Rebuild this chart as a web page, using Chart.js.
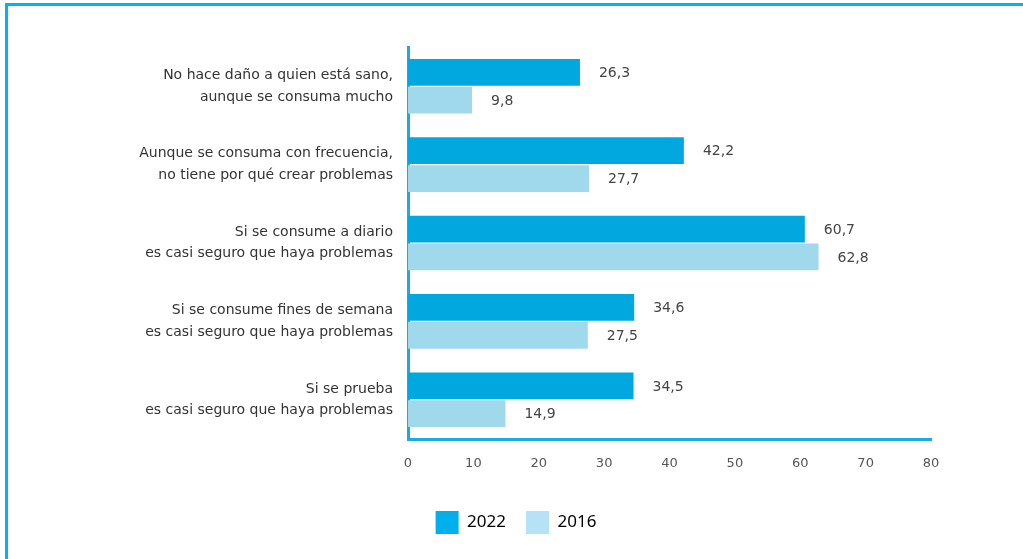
<!DOCTYPE html>
<html>
<head>
<meta charset="utf-8">
<script src="https://cdn.jsdelivr.net/npm/chart.js@4.4.1/dist/chart.umd.min.js"></script>
<style>
  html, body { margin: 0; padding: 0; background: #ffffff; overflow: hidden; }
  #wrap { position: relative; width: 1023px; height: 559px; }
  #frame { position: absolute; left: 5px; top: 3px; width: 2000px; height: 2000px; border: 3px solid #00B5EF; box-sizing: border-box; }
  canvas { position: absolute; left: 0; top: 0; }
</style>
</head>
<body>
<div id="wrap">
  <div id="frame"></div>
  <canvas id="c" width="1023" height="559"></canvas>
</div>
<script>
const categories = [
  ["No hace daño a quien está sano,", "aunque se consuma mucho"],
  ["Aunque se consuma con frecuencia,", "no tiene por qué crear problemas"],
  ["Si se consume a diario", "es casi seguro que haya problemas"],
  ["Si se consume fines de semana", "es casi seguro que haya problemas"],
  ["Si se prueba", "es casi seguro que haya problemas"]
];
const seriesNames = ["2022", "2016"];
const values2022 = [26.3, 42.2, 60.7, 34.6, 34.5];
const values2016 = [9.8, 27.7, 62.8, 27.5, 14.9];
const xTicks = [0, 10, 20, 30, 40, 50, 60, 70, 80];

const barColors = ["#00A8DF", "#9FD9EB"];
const legendColors = ["#00B0EC", "#B5E2F7"];

const valueLabels = {
  id: "valueLabels",
  afterDatasetsDraw(chart) {
    const ctx = chart.ctx;
    ctx.save();
    ctx.font = "14px 'DejaVu Sans'";
    ctx.fillStyle = "#444444";
    ctx.textAlign = "left";
    ctx.textBaseline = "middle";
    chart.data.datasets.forEach((ds, di) => {
      const meta = chart.getDatasetMeta(di);
      meta.data.forEach((el, i) => {
        const txt = ds.data[i].toFixed(1).replace(".", ",");
        ctx.fillText(txt, el.x + 19, el.y + 1);
      });
    });
    ctx.restore();
  }
};

new Chart(document.getElementById("c"), {
  type: "bar",
  data: {
    labels: categories,
    datasets: [
      { label: seriesNames[0], data: values2022, backgroundColor: barColors[0] },
      { label: seriesNames[1], data: values2016, backgroundColor: barColors[1] }
    ]
  },
  options: {
    indexAxis: "y",
    responsive: false,
    animation: false,
    events: [],
    categoryPercentage: 0.71,
    barPercentage: 0.96,
    layout: { padding: { top: 47, left: 101, right: 92, bottom: 15 } },
    scales: {
      x: {
        min: 0, max: 80,
        afterBuildTicks(scale) { scale.ticks = xTicks.map(v => ({ value: v })); },
        afterFit(scale) { scale.height = 52; },
        grid: { display: false, drawTicks: false },
        border: { display: true, color: "#1AABE2", width: 3 },
        ticks: {
          padding: 17,
          color: "#555555",
          font: { family: "'DejaVu Sans'", size: 13 }
        }
      },
      y: {
        afterFit(scale) { scale.width = 307; },
        grid: { display: false, drawTicks: false },
        border: { display: true, color: "#1AABE2", width: 3 },
        ticks: {
          padding: 15,
          color: "#333333",
          font: { family: "'DejaVu Sans'", size: 14, lineHeight: 1.55 }
        }
      }
    },
    plugins: {
      tooltip: { enabled: false },
      legend: {
        position: "bottom",
        labels: {
          boxWidth: 23,
          boxHeight: 23,
          padding: 20,
          color: "#2a2a35",
          font: { family: "'Noto Sans'", size: 17 },
          generateLabels(chart) {
            return chart.data.datasets.map((ds, i) => ({
              text: ds.label,
              fillStyle: legendColors[i],
              strokeStyle: legendColors[i],
              lineWidth: 0,
              hidden: false,
              datasetIndex: i
            }));
          }
        }
      }
    }
  },
  plugins: [valueLabels]
});
</script>
</body>
</html>
